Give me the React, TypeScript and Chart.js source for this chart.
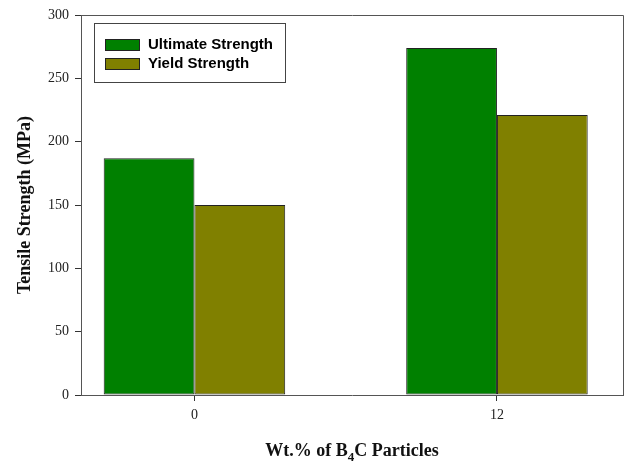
import React, { useEffect, useRef } from "react";
import { Chart, registerables } from "chart.js";

Chart.register(...registerables);

const categories = [0, 12];
const ultimateStrength = [187, 274];
const yieldStrength = [150, 221];
const seriesLabels = ["Ultimate Strength", "Yield Strength"];
const yTicks = [0, 50, 100, 150, 200, 250, 300];
const yTitle = "Tensile Strength (MPa)";
const xTitleParts = ["Wt.% of B", "4", "C Particles"];

const SERIF = "'Liberation Serif', 'Times New Roman', serif";
const SANS = "'Liberation Sans', Arial, sans-serif";

const framePlugin = {
  id: "frame",
  afterDatasetsDraw(chart: any) {
    const { ctx, chartArea } = chart;
    ctx.save();
    ctx.strokeStyle = "#555";
    ctx.lineWidth = 1;
    ctx.beginPath();
    ctx.moveTo(chartArea.left + 0.5, chartArea.top + 0.5);
    ctx.lineTo(chartArea.right + 0.5, chartArea.top + 0.5);
    ctx.lineTo(chartArea.right + 0.5, chartArea.bottom + 0.5);
    ctx.stroke();
    ctx.restore();
  },
};

const legendPlugin = {
  id: "boxLegend",
  afterDraw(chart: any) {
    const { ctx, chartArea } = chart;
    const left = chartArea.left + 13;
    const top = chartArea.top + 8;
    const w = 191;
    const h = 59;
    ctx.save();
    ctx.fillStyle = "#fff";
    ctx.fillRect(left, top, w, h);
    ctx.strokeStyle = "#444";
    ctx.lineWidth = 1;
    ctx.strokeRect(left + 0.5, top + 0.5, w, h);
    chart.data.datasets.forEach((ds: any, i: number) => {
      const cy = top + 21 + i * 19;
      ctx.fillStyle = ds.backgroundColor;
      ctx.fillRect(left + 11, cy - 5, 34, 11);
      ctx.strokeStyle = "#222";
      ctx.strokeRect(left + 11.5, cy - 4.5, 34, 11);
      ctx.fillStyle = "#000";
      ctx.font = `bold 15px ${SANS}`;
      ctx.textBaseline = "middle";
      ctx.textAlign = "left";
      ctx.fillText(ds.label, left + 54, cy + 1);
    });
    ctx.restore();
  },
};

const xTitlePlugin = {
  id: "xTitle",
  afterDraw(chart: any) {
    const { ctx, chartArea } = chart;
    const cx = (chartArea.left + chartArea.right) / 2;
    const baseY = 456;
    const mainFont = `bold 18px ${SERIF}`;
    const subFont = `bold 13px ${SERIF}`;
    ctx.save();
    ctx.fillStyle = "#111";
    ctx.textBaseline = "alphabetic";
    ctx.textAlign = "left";
    ctx.font = mainFont;
    const w0 = ctx.measureText(xTitleParts[0]).width;
    const w2 = ctx.measureText(xTitleParts[2]).width;
    ctx.font = subFont;
    const w1 = ctx.measureText(xTitleParts[1]).width;
    let x = cx - (w0 + w1 + w2) / 2;
    ctx.font = mainFont;
    ctx.fillText(xTitleParts[0], x, baseY);
    x += w0;
    ctx.font = subFont;
    ctx.fillText(xTitleParts[1], x, baseY + 5);
    x += w1;
    ctx.font = mainFont;
    ctx.fillText(xTitleParts[2], x, baseY);
    ctx.restore();
  },
};

export default function App() {
  const canvasRef = useRef<HTMLCanvasElement | null>(null);

  useEffect(() => {
    document.body.style.margin = "0";
    const canvas = canvasRef.current;
    if (!canvas) return;
    const chart = new Chart(canvas, {
      type: "bar",
      data: {
        datasets: [
          {
            label: seriesLabels[0],
            data: categories.map((c, i) => ({ x: c, y: ultimateStrength[i] })),
            backgroundColor: "#008000",
            borderColor: "#222",
            borderWidth: 1,
            borderSkipped: false,
          },
          {
            label: seriesLabels[1],
            data: categories.map((c, i) => ({ x: c, y: yieldStrength[i] })),
            backgroundColor: "#808000",
            borderColor: "#222",
            borderWidth: 1,
            borderSkipped: false,
          },
        ],
      },
      options: {
        animation: false,
        responsive: false,
        maintainAspectRatio: false,
        categoryPercentage: 0.6,
        barPercentage: 1.0,
        layout: { padding: { left: 0, top: 15, right: 4, bottom: 0 } },
        plugins: {
          legend: { display: false },
          tooltip: { enabled: false },
        },
        scales: {
          x: {
            type: "linear",
            offset: false,
            min: -4.5,
            max: 17,
            afterBuildTicks: (scale: any) => {
              scale.ticks = categories.map((v) => ({ value: v }));
            },
            afterFit: (scale: any) => {
              scale.height = 68;
            },
            ticks: {
              autoSkip: false,
              maxRotation: 0,
              padding: 6,
              color: "#222",
              font: { family: SERIF, size: 14 },
              callback: (v: any) => String(v),
            },
            grid: {
              offset: false,
              drawOnChartArea: false,
              drawTicks: true,
              tickLength: 6,
              color: "#333",
            },
            border: { display: true, color: "#555", width: 1 },
          },
          y: {
            min: 0,
            max: 300,
            afterBuildTicks: (scale: any) => {
              scale.ticks = yTicks.map((v) => ({ value: v }));
            },
            afterFit: (scale: any) => {
              scale.width = 81;
            },
            ticks: {
              padding: 6,
              color: "#222",
              font: { family: SERIF, size: 14 },
            },
            grid: {
              drawOnChartArea: false,
              drawTicks: true,
              tickLength: 6,
              color: "#333",
            },
            border: { display: true, color: "#555", width: 1 },
            title: {
              display: true,
              text: yTitle,
              color: "#111",
              font: { family: SERIF, size: 18, weight: "bold" },
              padding: { top: 15, bottom: 0 },
            },
          },
        },
      },
      plugins: [framePlugin, legendPlugin, xTitlePlugin],
    });
    return () => chart.destroy();
  }, []);

  return (
    <div style={{ width: 627, height: 463 }}>
      <canvas ref={canvasRef} width={627} height={463} style={{ display: "block" }} />
    </div>
  );
}
